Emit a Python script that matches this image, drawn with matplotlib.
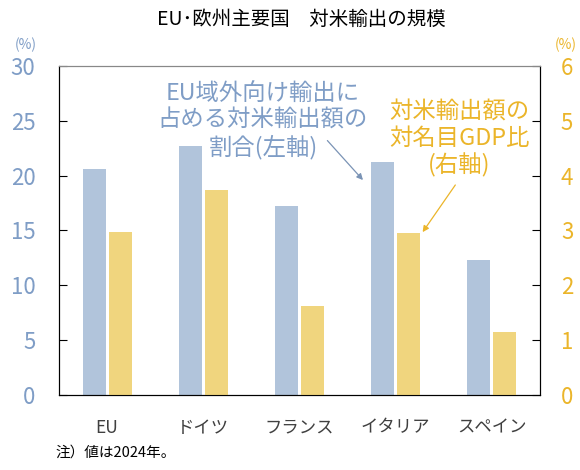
import numpy as np
import matplotlib
matplotlib.use("Agg")
import matplotlib.pyplot as plt

plt.rcParams['font.family'] = ['Noto Sans CJK JP', 'DejaVu Sans']

# データ（2024年）
countries = ['EU', 'ドイツ', 'フランス', 'イタリア', 'スペイン']
share_of_extra_eu = [20.6, 22.7, 17.2, 21.2, 12.3]   # 左軸 (%)
us_exports_gdp = [2.97, 3.74, 1.62, 2.96, 1.15]      # 右軸 (%)

blue = '#B1C4DB'
yellow = '#F0D57E'
blue_txt = '#7F9DC6'
yellow_txt = '#EBB52A'

fig = plt.figure(figsize=(5.8, 4.7), dpi=100)
ax = fig.add_axes([0.1017, 0.1596, 0.8293, 0.7])
ax2 = ax.twinx()

x = np.arange(len(countries))
w = 0.24
ax.bar(x - 0.135, share_of_extra_eu, width=w, color=blue)
ax2.bar(x + 0.135, us_exports_gdp, width=w, color=yellow)

ax.set_xlim(-0.5, len(countries) - 0.5)
ax.set_ylim(0, 30)
ax2.set_ylim(0, 6)
ax.set_yticks(range(0, 31, 5))
ax2.set_yticks(range(0, 7))

ax.tick_params(axis='y', direction='in', length=6, pad=17, labelsize=16, labelcolor=blue_txt)
ax2.tick_params(axis='y', direction='in', length=6, pad=15, labelsize=16, labelcolor=yellow_txt)
ax.tick_params(axis='x', length=0, pad=17, labelsize=12.5, labelcolor='#404040')
ax.set_xticks(x)
ax.set_xticklabels(countries)

for a in (ax, ax2):
    a.spines['top'].set_color('#888888')
    for s in ('left', 'right', 'bottom'):
        a.spines[s].set_color('black')

fig.text(0.52, 0.958, 'EU･欧州主要国　対米輸出の規模', ha='center', va='center', fontsize=14)
fig.text(0.045, 0.905, '(%)', ha='center', va='center', fontsize=10, color=blue_txt)
fig.text(0.975, 0.905, '(%)', ha='center', va='center', fontsize=10, color=yellow_txt)
fig.text(0.095, 0.022, '注）値は2024年。', ha='left', va='bottom', fontsize=10.5)

# 注記テキスト
ax.text(1.62, 24.95, 'EU域外向け輸出に\n占める対米輸出額の\n割合(左軸)', ha='center', va='center',
        fontsize=16.8, color=blue_txt, linespacing=1.16)
ax2.text(3.66, 4.67, '対米輸出額の\n対名目GDP比\n(右軸)', ha='center', va='center',
         fontsize=16.8, color=yellow_txt, linespacing=1.16)

# 矢印
ax.annotate('', xy=(2.66, 19.6), xytext=(2.29, 23.2),
            arrowprops=dict(arrowstyle='-|>', color='#7A93B5', lw=0.9, mutation_scale=9,
                            shrinkA=0, shrinkB=0))
ax2.annotate('', xy=(3.28, 2.97), xytext=(3.62, 3.83),
             arrowprops=dict(arrowstyle='-|>', color='#EBB52A', lw=0.9, mutation_scale=9,
                             shrinkA=0, shrinkB=0))

fig.savefig('out.png', dpi=100)
